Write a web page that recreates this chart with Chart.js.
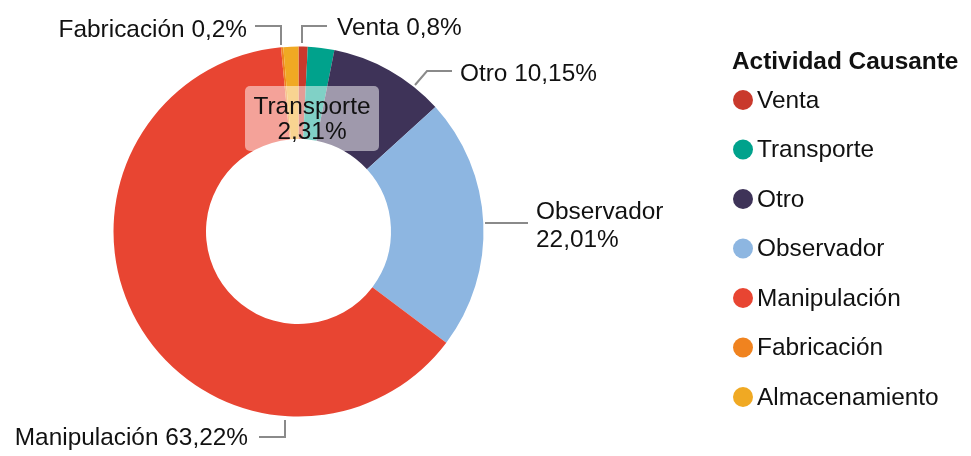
<!DOCTYPE html>
<html>
<head>
<meta charset="utf-8">
<script src="https://cdn.jsdelivr.net/npm/chart.js@4"></script>
<style>
  html, body { margin: 0; padding: 0; background: #fff; }
  canvas { display: block; }
</style>
</head>
<body>
<canvas id="chart" width="971" height="456"></canvas>
<script>
const categories = ["Venta", "Transporte", "Otro", "Observador", "Manipulación", "Fabricación", "Almacenamiento"];
const values = [0.8, 2.31, 10.15, 22.01, 63.22, 0.2, 1.31];
const colors = ["#c9392c", "#00a28c", "#3e3358", "#8db6e1", "#e84532", "#f0831f", "#f0a923"];
const legendTitle = "Actividad Causante";

const FONT = "'Liberation Sans', Arial, sans-serif";
const SIZE = "24.4px ";

function fmt(v) {
    return String(v).replace(".", ",") + "%";
}

// leader line layout for the outside labels
const labelLayout = {
    "Venta":        { pts: [[302, 43], [302, 26], [327, 26]], tx: 337, ty: [28], align: "left" },
    "Fabricación":  { pts: [[281, 45], [281, 26], [255, 26]], tx: 247, ty: [30], align: "right" },
    "Otro":         { pts: [[415, 85], [427, 71], [452, 71]], tx: 460, ty: [74], align: "left" },
    "Observador":   { pts: [[485, 223], [528, 223]], tx: 536, ty: [212, 240], align: "left", split: true },
    "Manipulación": { pts: [[285, 420], [285, 437], [259, 437]], tx: 248, ty: [438], align: "right" },
};

const outsideLabels = {
    id: "outsideLabels",
    afterDraw(chart) {
        const ctx = chart.ctx;
        ctx.save();
        ctx.font = SIZE + FONT;
        ctx.textBaseline = "middle";
        categories.forEach((name, i) => {
            const lay = labelLayout[name];
            if (!lay) return;
            ctx.strokeStyle = "#8a8a8a";
            ctx.lineWidth = 2;
            ctx.beginPath();
            lay.pts.forEach((p, k) => k ? ctx.lineTo(p[0], p[1]) : ctx.moveTo(p[0], p[1]));
            ctx.stroke();
            ctx.fillStyle = "#111";
            ctx.textAlign = lay.align;
            const lines = lay.split ? [name, fmt(values[i])] : [name + " " + fmt(values[i])];
            lines.forEach((t, k) => ctx.fillText(t, lay.tx, lay.ty[k]));
        });

        // highlighted label box for Transporte
        const idx = categories.indexOf("Transporte");
        ctx.fillStyle = "rgba(255,255,255,0.5)";
        ctx.beginPath();
        ctx.roundRect(245, 86, 134, 65, 5);
        ctx.fill();
        ctx.fillStyle = "#111";
        ctx.textAlign = "center";
        ctx.fillText(categories[idx], 312, 107);
        ctx.fillText(fmt(values[idx]), 312, 132);

        // legend
        ctx.textAlign = "left";
        ctx.font = "bold " + SIZE + FONT;
        ctx.fillText(legendTitle, 732, 62);
        ctx.font = SIZE + FONT;
        categories.forEach((name, i) => {
            const y = 100 + i * 49.5;
            ctx.fillStyle = colors[i];
            ctx.beginPath();
            ctx.arc(743, y, 10, 0, Math.PI * 2);
            ctx.fill();
            ctx.fillStyle = "#111";
            ctx.fillText(name, 757, y + 1);
        });
        ctx.restore();
    }
};

new Chart(document.getElementById("chart"), {
    type: "doughnut",
    data: {
        labels: categories,
        datasets: [{
            data: values,
            backgroundColor: colors,
            borderWidth: 0,
        }]
    },
    options: {
        responsive: false,
        animation: false,
        cutout: "50%",
        layout: { padding: { left: 113.5, right: 487.5, top: 46.5, bottom: 39.5 } },
        plugins: {
            legend: { display: false },
            tooltip: { enabled: false },
        }
    },
    plugins: [outsideLabels]
});
</script>
</body>
</html>
